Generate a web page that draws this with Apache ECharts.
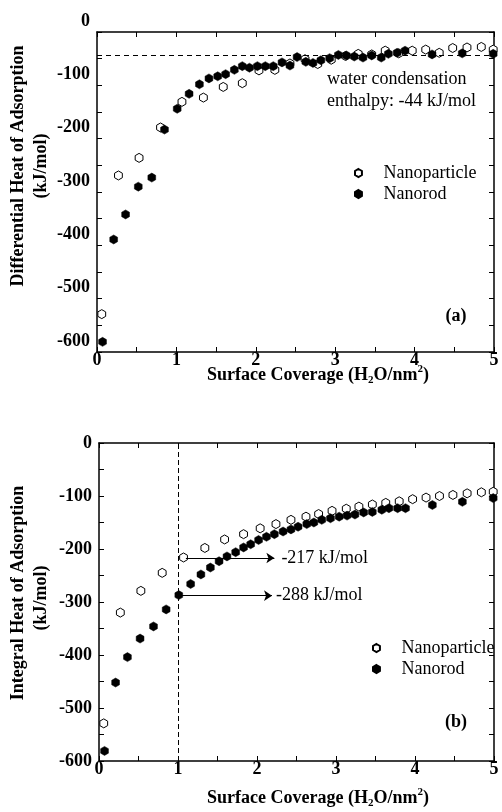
<!DOCTYPE html>
<html>
<head>
<meta charset="utf-8">
<script src="https://cdn.jsdelivr.net/npm/echarts@6/dist/echarts.min.js"></script>
<style>
html,body{margin:0;padding:0;background:#fff;}
#chart{width:502px;height:812px;}
</style>
</head>
<body>
<div id="chart"></div>
<script>
// ---- data ----
var xTicks = [0, 1, 2, 3, 4, 5];
var yTicks = [0, -100, -200, -300, -400, -500, -600];

// Nanoparticle (open symbols)
var npX    = [0.06, 0.27, 0.53, 0.80, 1.07, 1.34, 1.59, 1.83, 2.04, 2.24, 2.43, 2.62, 2.78, 2.95, 3.13, 3.29, 3.46, 3.63, 3.80, 3.97, 4.14, 4.31, 4.48, 4.66, 4.84, 4.99];
var npDiff = [-529, -269, -236, -179, -131, -123, -103, -96, -72, -71, -59, -51, -60, -52, -45, -41, -42, -35, -40, -35, -33, -39, -30, -29, -28, -33];
var npInt  = [-529, -320, -279, -245, -216, -198, -182, -172, -161, -153, -145, -139, -134, -128, -124, -120, -116, -113, -110, -106, -103, -100, -98, -95, -93, -92];

// Nanorod (filled symbols)
var nrX    = [0.07, 0.21, 0.36, 0.52, 0.69, 0.85, 1.01, 1.16, 1.29, 1.41, 1.52, 1.62, 1.73, 1.83, 1.92, 2.02, 2.12, 2.22, 2.33, 2.43, 2.52, 2.63, 2.72, 2.82, 2.93, 3.04, 3.14, 3.24, 3.35, 3.46, 3.58, 3.67, 3.78, 3.88, 4.22, 4.60, 4.99];
var nrDiff = [-581, -389, -342, -290, -273, -183, -144, -116, -98, -87, -83, -79, -71, -64, -67, -64, -64, -64, -57, -63, -47, -56, -58, -53, -49, -43, -44, -46, -48, -44, -48, -41, -39, -35, -42, -40, -41];
var nrInt  = [-581, -452, -404, -369, -346, -314, -287, -266, -248, -235, -223, -214, -206, -197, -191, -183, -177, -172, -167, -163, -158, -153, -150, -145, -142, -139, -137, -135, -131, -130, -126, -123, -123, -123, -117, -111, -104];

// annotations
var condensationEnthalpy = -44;
var npArrow = {from: 1.10, to: 2.22, value: -217, text: '-217 kJ/mol'};
var nrArrow = {from: 1.01, to: 2.19, value: -288, text: '-288 kJ/mol'};
var coverageMark = 1;

// ---- chart ----
var FONT = "'Liberation Serif','Times New Roman',serif";
var HEX = 'path://M0,-1 L0.866,-0.5 L0.866,0.5 L0,1 L-0.866,0.5 L-0.866,-0.5 Z';

function pairs(xs, ys){ return xs.map(function(x,i){ return [x, ys[i]]; }); }

function xAx(grid, pos, labels){
  return {
    type:'value', gridIndex:grid, position:pos, min:0, max:5, interval:0.5,
    axisLine:{show:true, onZero:false, lineStyle:{color:'#000', width:1.5}},
    axisTick:{show:true, inside:true, length:5, lineStyle:{color:'#000', width:1}},
    axisLabel:{show:labels, margin:-1, color:'#000', fontFamily:FONT, fontWeight:'bold', fontSize:18,
      formatter:function(v){ return xTicks.indexOf(v) >= 0 ? String(v) : ''; }},
    splitLine:{show:false}
  };
}
function yAx(grid, pos, labels, shifted){
  return {
    type:'value', gridIndex:grid, position:pos, min:-600, max:0, interval:50,
    axisLine:{show:true, onZero:false, lineStyle:{color:'#000', width:1.5}},
    axisTick:{show:true, inside:true, length:5, lineStyle:{color:'#000', width:1}},
    axisLabel:{show:labels, margin:7, color:'#000', fontFamily:FONT, fontWeight:'bold', fontSize:18,
      verticalAlign: shifted ? 'bottom' : 'middle', padding: shifted ? [0,0,2,0] : 0,
      formatter:function(v){ return yTicks.indexOf(v) >= 0 ? String(v) : ''; }},
    splitLine:{show:false}
  };
}

var openStyle = {color:'#fff', borderColor:'#000', borderWidth:1, opacity:1};
var fillStyle = {color:'#000', borderColor:'#000', borderWidth:0.5, opacity:1};

var legendCommon = {
  orient:'vertical', itemWidth:8, itemHeight:8, itemGap:3, icon: HEX,
  textStyle:{fontFamily:FONT, fontSize:18, color:'#000', padding:[0,0,0,16]},
  data:['Nanoparticle','Nanorod'], selectedMode:false
};

var textStyleRich = {
  a:{fontFamily:FONT, fontWeight:'bold', fontSize:18, fill:'#000', lineHeight:22, verticalAlign:'middle'},
  s:{fontFamily:FONT, fontWeight:'bold', fontSize:11, fill:'#000', lineHeight:12, verticalAlign:'bottom'},
  p:{fontFamily:FONT, fontWeight:'bold', fontSize:11, fill:'#000', lineHeight:12, verticalAlign:'top'}
};
var xTitle = '{a|Surface Coverage (H}{s|2}{a|O/nm}{p|2}{a|)}';

var option = {
  backgroundColor:'#fff',
  animation:false,
  grid:[
    {left:97, top:32, right:8, height:320, containLabel:false},
    {left:99, top:443, right:8, height:318, containLabel:false}
  ],
  xAxis:[ xAx(0,'bottom',true), xAx(0,'top',false), xAx(1,'bottom',true), xAx(1,'top',false) ],
  yAxis:[ yAx(0,'left',true,true), yAx(0,'right',false,false), yAx(1,'left',true,false), yAx(1,'right',false,false) ],
  legend:[
    Object.assign({}, legendCommon, {left:349, top:159}),
    Object.assign({}, legendCommon, {left:367, top:634})
  ],
  series:[
    {name:'Nanoparticle', type:'scatter', xAxisIndex:0, yAxisIndex:0, symbol:HEX, symbolKeepAspect:true, symbolSize:9,
     itemStyle:openStyle, data:pairs(npX, npDiff), z:3},
    {name:'Nanorod', type:'scatter', xAxisIndex:0, yAxisIndex:0, symbol:HEX, symbolKeepAspect:true, symbolSize:9,
     itemStyle:fillStyle, data:pairs(nrX, nrDiff), z:4,
     markLine:{silent:true, symbol:'none', animation:false,
       lineStyle:{color:'#000', width:1, type:[5,4]}, label:{show:false},
       data:[{yAxis:condensationEnthalpy}]}},
    {name:'Nanoparticle', type:'scatter', xAxisIndex:2, yAxisIndex:2, symbol:HEX, symbolKeepAspect:true, symbolSize:9,
     itemStyle:openStyle, data:pairs(npX, npInt), z:3,
     markLine:{silent:true, symbol:['none','arrow'], symbolSize:8, animation:false,
       lineStyle:{color:'#000', width:1, type:'solid'},
       label:{show:true, position:'end', distance:7, color:'#000', fontFamily:FONT, fontSize:18, formatter:npArrow.text},
       data:[[{coord:[npArrow.from, npArrow.value]},{coord:[npArrow.to, npArrow.value]}]]}},
    {name:'Nanorod', type:'scatter', xAxisIndex:2, yAxisIndex:2, symbol:HEX, symbolKeepAspect:true, symbolSize:9,
     itemStyle:fillStyle, data:pairs(nrX, nrInt), z:4,
     markLine:{silent:true, symbol:['none','arrow'], symbolSize:8, animation:false,
       lineStyle:{color:'#000', width:1, type:'solid'},
       label:{show:true, position:'end', distance:4, color:'#000', fontFamily:FONT, fontSize:18, formatter:nrArrow.text},
       data:[[{coord:[nrArrow.from, nrArrow.value]},{coord:[nrArrow.to, nrArrow.value]}]]}},
    {name:'x=1', type:'line', xAxisIndex:2, yAxisIndex:2, data:[], 
     markLine:{silent:true, symbol:'none', animation:false,
       lineStyle:{color:'#000', width:1, type:[5,3]}, label:{show:false},
       data:[{xAxis:coverageMark}]}}
  ],
  graphic:[
    {type:'text', x:318, y:375, style:{text:xTitle, rich:textStyleRich, align:'center', verticalAlign:'middle'}},
    {type:'text', x:318, y:798, style:{text:xTitle, rich:textStyleRich, align:'center', verticalAlign:'middle'}},
    {type:'text', x:18, y:166, rotation:Math.PI/2, style:{text:'Differential Heat of Adsorption', fontFamily:FONT, fontWeight:'bold', fontSize:18, fill:'#000', align:'center', verticalAlign:'middle'}},
    {type:'text', x:41, y:166, rotation:Math.PI/2, style:{text:'(kJ/mol)', fontFamily:FONT, fontWeight:'bold', fontSize:18, fill:'#000', align:'center', verticalAlign:'middle'}},
    {type:'text', x:18, y:593, rotation:Math.PI/2, style:{text:'Integral Heat of Adsorption', fontFamily:FONT, fontWeight:'bold', fontSize:18, fill:'#000', align:'center', verticalAlign:'middle'}},
    {type:'text', x:41, y:598, rotation:Math.PI/2, style:{text:'(kJ/mol)', fontFamily:FONT, fontWeight:'bold', fontSize:18, fill:'#000', align:'center', verticalAlign:'middle'}},
    {type:'text', x:327, y:79, style:{text:'water condensation', fontFamily:FONT, fontSize:18, fill:'#000', align:'left', verticalAlign:'middle'}},
    {type:'text', x:327, y:101, style:{text:'enthalpy: ' + condensationEnthalpy + ' kJ/mol', fontFamily:FONT, fontSize:18, fill:'#000', align:'left', verticalAlign:'middle'}},
    {type:'text', x:456, y:316, style:{text:'(a)', fontFamily:FONT, fontWeight:'bold', fontSize:18, fill:'#000', align:'center', verticalAlign:'middle'}},
    {type:'text', x:456, y:722, style:{text:'(b)', fontFamily:FONT, fontWeight:'bold', fontSize:18, fill:'#000', align:'center', verticalAlign:'middle'}}
  ]
};

var chart = echarts.init(document.getElementById('chart'), null, {renderer:'canvas'});
chart.setOption(option);
</script>
</body>
</html>
